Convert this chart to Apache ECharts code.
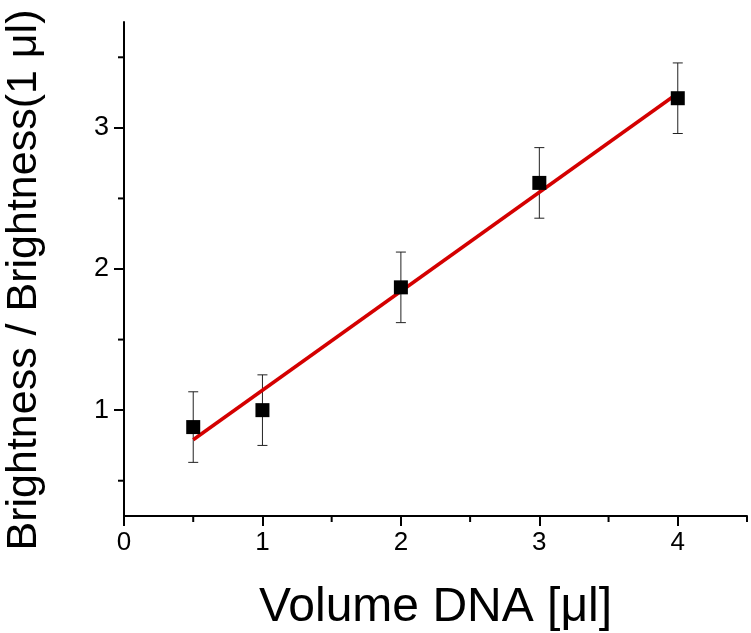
<!DOCTYPE html>
<html><head><meta charset="utf-8">
<script src="https://cdn.jsdelivr.net/npm/echarts@6/dist/echarts.min.js"></script>
<style>html,body{margin:0;padding:0;background:#fff}#c{width:751px;height:633px}</style>
</head><body><div id="c"></div>
<script>
var volumes = [0.5, 1, 2, 3, 4];
var brightness = [0.88, 1.0, 1.87, 2.61, 3.21];
var errors = [0.25, 0.25, 0.25, 0.25, 0.25];
var fitX = [0.5, 4];
var fitY = [0.79, 3.245];
var xTicks = [0, 1, 2, 3, 4];
var yTicks = [1, 2, 3];

var font = '"Liberation Sans", Arial, sans-serif';
var points = volumes.map(function(v, i){ return [v, brightness[i]]; });
var errData = volumes.map(function(v, i){ return [v, brightness[i] - errors[i], brightness[i] + errors[i]]; });
var fitData = fitX.map(function(v, i){ return [v, fitY[i]]; });

var chart = echarts.init(document.getElementById('c'), null, {renderer: 'canvas'});
chart.setOption({
  animation: false,
  backgroundColor: '#fff',
  grid: {left: 124, right: 4, top: 22, bottom: 117, containLabel: false, outerBoundsMode: 'none'},
  xAxis: {
    type: 'value', min: 0, max: 4.5, interval: 0.5,
    axisLine: {show: true, lineStyle: {color: '#000', width: 2}},
    axisTick: {show: true, length: 10, lineStyle: {color: '#000', width: 2}, customValues: xTicks},
    minorTick: {show: false},
    splitLine: {show: false},
    axisLabel: {fontFamily: font, fontSize: 26, color: '#000', margin: 14, customValues: xTicks,
      formatter: function(v){ return String(v); }},
    name: 'Volume DNA [\u03bcl]', nameLocation: 'middle', nameGap: 68,
    nameTextStyle: {fontFamily: font, fontSize: 48, color: '#000'}
  },
  yAxis: {
    type: 'value', min: 0.25, max: 3.75,
    axisLine: {show: true, lineStyle: {color: '#000', width: 2}},
    axisTick: {show: true, length: 10, lineStyle: {color: '#000', width: 2}, customValues: yTicks},
    splitLine: {show: false},
    axisLabel: {fontFamily: font, fontSize: 27, color: '#000', margin: 15, customValues: yTicks,
      formatter: function(v){ return String(v); }},
    name: 'Brightness / Brightness(1 \u03bcl)', nameLocation: 'middle', nameGap: 78,
    nameTextStyle: {fontFamily: font, fontSize: 43, color: '#000', padding: [0, 22, 0, 0]}
  },
  series: [
    {
      type: 'custom', name: 'minorX',
      renderItem: function(params, api){
        var children = [];
        [0.5, 1.5, 2.5, 3.5, 4.5].forEach(function(v){
          var p = api.coord([v, 0.25]);
          children.push({type: 'line', shape: {x1: p[0], y1: p[1], x2: p[0], y2: p[1] + 6}, style: {stroke: '#000', lineWidth: 2}});
        });
        [0.5, 1.5, 2.5, 3.5].forEach(function(v){
          var p = api.coord([0, v]);
          children.push({type: 'line', shape: {x1: p[0], y1: p[1], x2: p[0] - 6, y2: p[1]}, style: {stroke: '#000', lineWidth: 2}});
        });
        return params.dataIndex === 0 ? {type: 'group', children: children} : null;
      },
      data: [[0, 0.25]], silent: true, clip: false, z: 1
    },
    {
      type: 'custom', name: 'errors',
      renderItem: function(params, api){
        var x = api.value(0);
        var lo = api.coord([x, api.value(1)]);
        var hi = api.coord([x, api.value(2)]);
        var w = 5;
        var st = {stroke: '#222', lineWidth: 1};
        return {type: 'group', children: [
          {type: 'line', shape: {x1: lo[0], y1: lo[1], x2: hi[0], y2: hi[1]}, style: st},
          {type: 'line', shape: {x1: lo[0] - w, y1: lo[1], x2: lo[0] + w, y2: lo[1]}, style: st},
          {type: 'line', shape: {x1: hi[0] - w, y1: hi[1], x2: hi[0] + w, y2: hi[1]}, style: st}
        ]};
      },
      encode: {x: 0, y: [1, 2]},
      data: errData, z: 2
    },
    {
      type: 'line', name: 'fit', data: fitData, showSymbol: false,
      lineStyle: {color: '#d40000', width: 3.5}, z: 3
    },
    {
      type: 'scatter', name: 'data', data: points, symbol: 'rect', symbolSize: 14,
      itemStyle: {color: '#000', opacity: 1}, z: 4
    }
  ]
});
</script>
</body></html>
